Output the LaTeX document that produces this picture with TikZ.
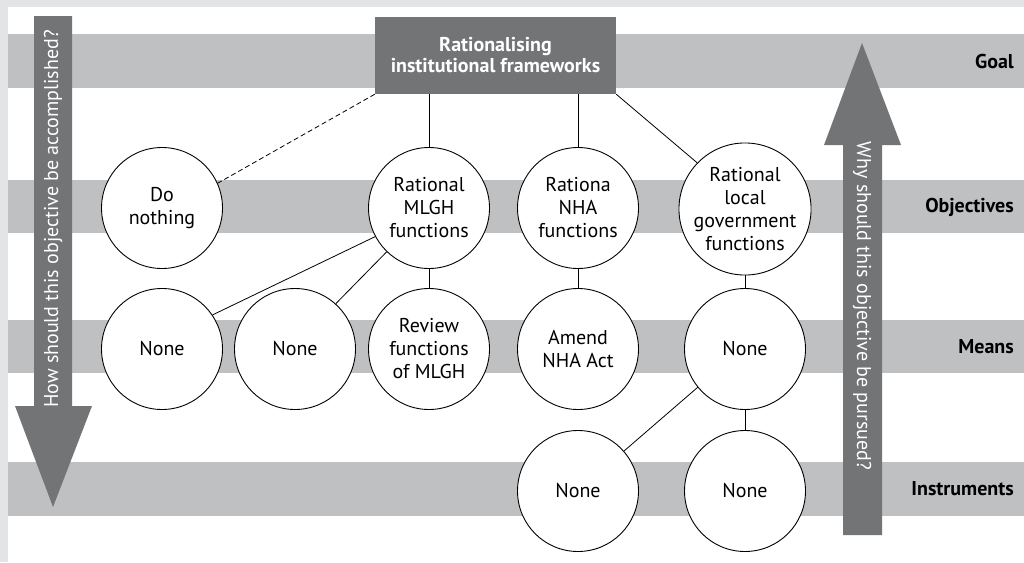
\documentclass[tikz,border=0pt]{standalone}
\usepackage{fontspec}
\setmainfont{PT Sans}
\begin{document}
\begin{tikzpicture}[x=1pt,y=-1pt,
  every node/.style={font=\fontsize{20}{23}\selectfont, align=center, inner sep=0pt},
  band/.style={fill=bandgrey, draw=none},
  bigarrow/.style={fill=arrowgrey, draw=none},
  bubble/.style={circle, draw=black, line width=0.9pt, fill=white, minimum size=121pt},
  link/.style={draw=black, line width=0.8pt},
  levellabel/.style={anchor=east, font=\fontsize{20}{23}\selectfont\bfseries},
  arrowtext/.style={text=white, font=\fontsize{20}{23}\selectfont}
]
\definecolor{framegrey}{HTML}{E3E4E6}
\definecolor{bandgrey}{HTML}{BFC0C2}
\definecolor{arrowgrey}{HTML}{737476}

% frame and canvas
\fill[framegrey] (0,0) rectangle (1024,562);
\fill[white] (8,7) rectangle (1024,562);
\useasboundingbox (0,0) rectangle (1024,562);

% level bands
\fill[band] (8,34) rectangle (1024,88);
\fill[band] (8,180) rectangle (1024,233);
\fill[band] (8,320) rectangle (1024,373);
\fill[band] (8,462) rectangle (1024,516);

% downward arrow (how?)
\fill[bigarrow] (34,16) -- (72,16) -- (72,406) -- (92,406) -- (53,507) -- (15,406) -- (34,406) -- cycle;
\node[arrowtext, rotate=90] (how) at (53,219) {How should this objective be accomplished?};

% upward arrow (why?)
\fill[bigarrow] (862,43) -- (901,145) -- (882,145) -- (882,535) -- (843,535) -- (843,145) -- (824,145) -- cycle;
\node[arrowtext, rotate=-90] (why) at (862,306) {Why should this objective be pursued?};

% level labels
\node[levellabel] (lgoal) at (1014,61) {Goal};
\node[levellabel] (lobj) at (1014,207) {Objectives};
\node[levellabel] (lmeans) at (1014,347) {Means};
\node[levellabel] (linst) at (1014,489) {Instruments};

% goal box
\node[fill=arrowgrey, text=white, minimum width=241pt, minimum height=77pt,
      font=\fontsize{20}{21}\selectfont\bfseries] (goal) at (495.5,55.5)
      {Rationalising\\institutional frameworks};

% objectives
\node[bubble] (dn) at (162,208) {Do\\nothing};
\node[bubble] (mlgh) at (429,208) {Rational\\MLGH\\functions};
\node[bubble] (nha) at (578,208) {Rationa\\NHA\\functions};
\node[bubble] (lgf) at (745,209) {Rational\\local\\government\\functions};

% means
\node[bubble] (n1) at (162,349) {None};
\node[bubble] (n2) at (295,349) {None};
\node[bubble] (rev) at (429,349) {Review\\functions\\of MLGH};
\node[bubble] (amend) at (578,349) {Amend\\NHA Act};
\node[bubble] (n3) at (745,349) {None};

% instruments
\node[bubble] (n4) at (578,491) {None};
\node[bubble] (n5) at (745,491) {None};

% connectors
\draw[link, dashed, dash pattern=on 5pt off 3pt] (goal.south west) -- (dn.24);
\draw[link] (mlgh.north |- goal.south) -- (mlgh.north);
\draw[link] (nha.north |- goal.south) -- (nha.north);
\draw[link] (goal.south east) -- (lgf.136);
\draw[link] (mlgh.208) -- (n1.34);
\draw[link] (mlgh.226) -- (n2.48);
\draw[link] (mlgh.south) -- (rev.north);
\draw[link] (nha.south) -- (amend.north);
\draw[link] (lgf.south) -- (n3.north);
\draw[link] (n3.219) -- (n4.41);
\draw[link] (n3.south) -- (n5.north);
\end{tikzpicture}
\end{document}
